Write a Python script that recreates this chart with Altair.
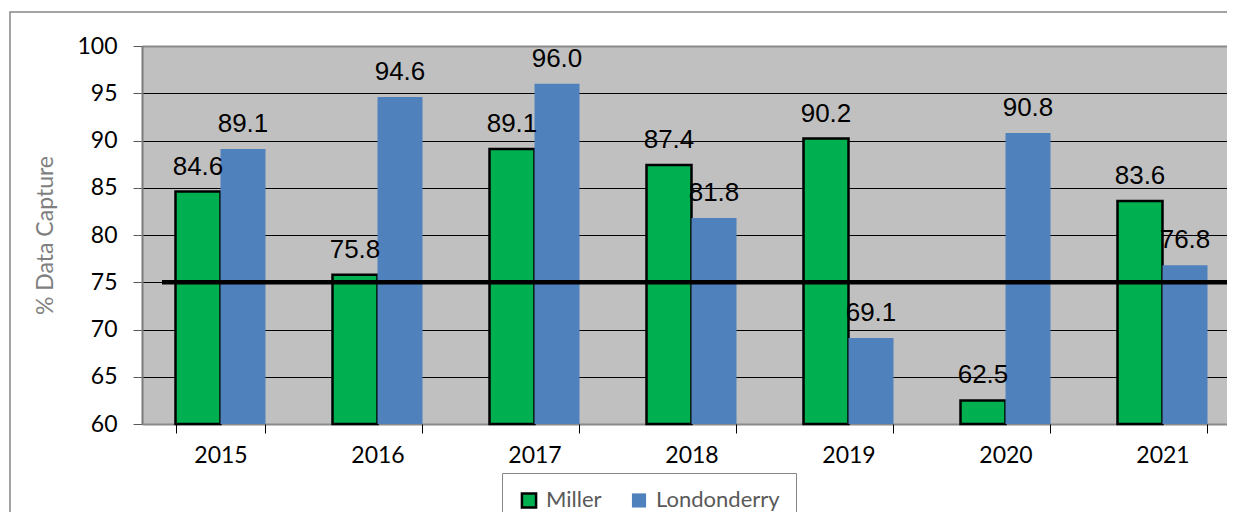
import altair as alt
import pandas as pd

years = ["2015", "2016", "2017", "2018", "2019", "2020", "2021"]
series_names = ["Miller", "Londonderry"]
miller = [84.6, 75.8, 89.1, 87.4, 90.2, 62.5, 83.6]
londonderry = [89.1, 94.6, 96.0, 81.8, 69.1, 90.8, 76.8]
target = 75
y_ticks = [60, 65, 70, 75, 80, 85, 90, 95, 100]
y_title = "% Data Capture"

rows = []
for i, yr in enumerate(years):
    rows.append({"year": yr, "series": "Miller", "value": miller[i]})
    rows.append({"year": yr, "series": "Londonderry", "value": londonderry[i]})
df = pd.DataFrame(rows)

x_enc = alt.X(
    "year:N", sort=years,
    scale=alt.Scale(paddingInner=0.4268, paddingOuter=0.2134, range=[0, 1099]),
    axis=alt.Axis(title=None, labelAngle=0, tickBand="extent", tickSize=9,
                  tickColor="#000000", domain=False, grid=False,
                  labelFont="Lato", labelFontSize=23, labelColor="#000000",
                  labelPadding=11),
)
xoff_enc = alt.XOffset("series:N", sort=series_names,
                       scale=alt.Scale(domain=series_names))
edge = "datum.value == 100 || datum.value == 60"
y_enc = alt.Y(
    "value:Q",
    scale=alt.Scale(domain=[60, 100], nice=False, zero=False),
    axis=alt.Axis(
        values=y_ticks, title=y_title, domain=True, domainColor="#7a7a7a",
        domainWidth=2, tickSize=9,
        tickColor="#595959", labelFont="Lato", labelFontSize=23,
        labelColor="#000000", labelPadding=16,
        gridColor=alt.condition(edge, alt.value("#8a8a8a"), alt.value("#000000")),
        gridWidth=alt.condition(edge, alt.value(2.2), alt.value(1)),
        titleFont="Lato", titleFontSize=23, titleFontWeight="normal",
        titleColor="#7f7f7f", titleX=-85, titleY=189, titleAngle=-90,
        titleAlign="center",
    ),
)

legend = alt.Legend(title=None)

base = alt.Chart(df)

bars = base.mark_bar(strokeWidth=2.5).encode(
    x=x_enc,
    xOffset=xoff_enc,
    y=y_enc,
    y2=alt.datum(60),
    color=alt.Color("series:N", sort=series_names,
                    scale=alt.Scale(domain=series_names, range=["#00B050", "#4F81BD"]),
                    legend=legend),
    stroke=alt.Stroke("series:N", sort=series_names,
                      scale=alt.Scale(domain=series_names, range=["#000000", "transparent"]),
                      legend=legend),
)

labels = base.mark_text(font="Liberation Sans", fontSize=26, baseline="alphabetic",
                        dy=-17, color="#000000").encode(
    x=x_enc,
    xOffset=xoff_enc,
    y=y_enc,
    text=alt.Text("value:Q", format=".1f"),
)

one = alt.Chart(pd.DataFrame({"k": [0]}))

border = one.mark_rect(fill="transparent", stroke="#868686", strokeWidth=1.5).encode(
    x=alt.value(-132), x2=alt.value(1110), y=alt.value(-34), y2=alt.value(480)
)

rule = one.mark_rule(color="#000000", strokeWidth=4.7).encode(
    x=alt.value(20), x2=alt.value(1090), y=alt.datum(target)
)

chart = alt.layer(border, bars, labels, rule).properties(
    width=1085, height=378,
    padding={"left": 134, "top": 38, "right": 0, "bottom": 88},
    autosize=alt.AutoSizeParams(type="none"),
).configure_view(
    fill="#C0C0C0", strokeWidth=0
).configure_legend(
    orient="none", legendX=360, legendY=427, direction="horizontal",
    fillColor="#ffffff", strokeColor="#868686", padding=16,
    symbolType="square", symbolSize=200, symbolStrokeWidth=2.5,
    labelFont="Lato", labelFontSize=22, labelColor="#595959",
    labelOffset=6, columnPadding=24,
)

chart.save("out.html", embed_options={"renderer": "svg", "actions": False})
